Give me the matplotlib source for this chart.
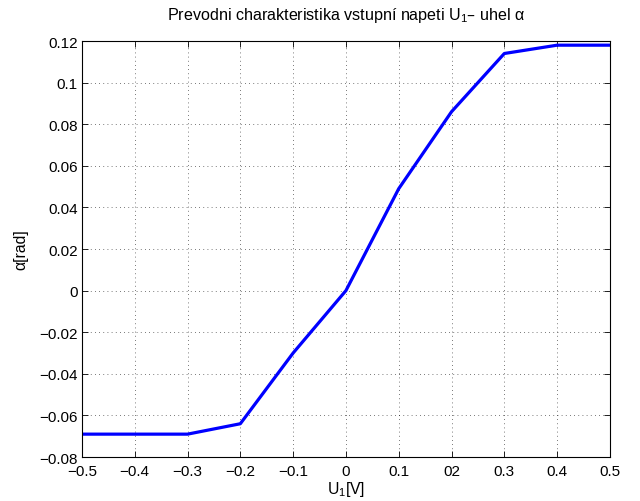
import matplotlib
matplotlib.use("Agg")
import matplotlib.pyplot as plt

plt.rcParams['font.family'] = ['Liberation Sans', 'DejaVu Sans']
plt.rcParams['mathtext.default'] = 'regular'
plt.rcParams['axes.unicode_minus'] = True

# data
u1 = [-0.5, -0.4, -0.3, -0.2, -0.1, 0.0, 0.1, 0.2, 0.3, 0.4, 0.5]
alpha = [-0.069, -0.069, -0.069, -0.064, -0.030, 0.0, 0.049, 0.086, 0.114, 0.118, 0.118]
xticks = [-0.5, -0.4, -0.3, -0.2, -0.1, 0.0, 0.1, 0.2, 0.3, 0.4, 0.5]
xticklabels = ['\u22120.5', '\u22120.4', '\u22120.3', '\u22120.2', '\u22120.1', '0', '0.1', '02', '0.3', '0.4', '0.5']
yticks = [-0.08, -0.06, -0.04, -0.02, 0.0, 0.02, 0.04, 0.06, 0.08, 0.1, 0.12]
yticklabels = ['\u22120.08', '\u22120.06', '\u22120.04', '\u22120.02', '0', '0.02', '0.04', '0.06', '0.08', '0.1', '0.12']

fig = plt.figure(figsize=(6.4, 5.02), dpi=100)
ax = fig.add_axes([0.128, 0.0876, 0.825, 0.8287])

ax.plot(u1, alpha, color=(0, 0, 1), linewidth=2.3)

ax.set_xlim(-0.5, 0.5)
ax.set_ylim(-0.08, 0.12)
ax.set_xticks(xticks)
ax.set_xticklabels(xticklabels)
ax.set_yticks(yticks)
ax.set_yticklabels(yticklabels)
ax.tick_params(direction='in', top=True, right=True, length=4, width=0.6, labelsize=11)
ax.tick_params(axis='x', pad=5)
ax.tick_params(axis='y', pad=3)
for lbl in ax.get_yticklabels():
    lbl.set_va('center_baseline')
for s in ax.spines.values():
    s.set_linewidth(0.8)

ax.grid(True, linestyle=(0, (1, 4)), color='black', linewidth=0.6, alpha=0.7)

ax.set_title('Prevodni charakteristika vstupní napeti U$_1$\u2013 uhel \u03b1', fontsize=11.6, pad=16)
ax.set_xlabel('U$_1$[V]', fontsize=11.3, labelpad=1)
ax.set_ylabel('\u03b1[rad]', fontsize=11.3, labelpad=8)

fig.savefig('out.png', dpi=100)
